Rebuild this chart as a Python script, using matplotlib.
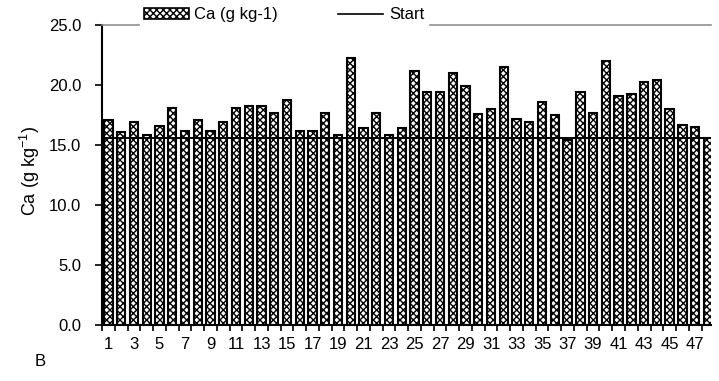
import numpy as np
import matplotlib
matplotlib.use('Agg')
import matplotlib.pyplot as plt
from matplotlib.patches import Patch
from matplotlib.lines import Line2D

plt.rcParams['font.family'] = ['Liberation Sans', 'DejaVu Sans']
plt.rcParams['hatch.linewidth'] = 1.0

# sample number and Ca content (g kg-1)
samples = list(range(1, 49))
ca = [17.1, 16.1, 16.9, 15.8, 16.6, 18.1, 16.2, 17.1, 16.2, 16.9,
      18.1, 18.25, 18.25, 17.7, 18.75, 16.2, 16.2, 17.7, 15.8, 22.3,
      16.4, 17.7, 15.8, 16.4, 21.2, 19.4, 19.4, 21.0, 19.9, 17.6,
      18.05, 21.5, 17.2, 16.9, 18.6, 17.55, 15.4, 19.4, 17.7, 22.0,
      19.1, 19.25, 20.3, 20.4, 18.05, 16.7, 16.5, 15.6]
start_value = 15.6
y_ticks = [0, 5, 10, 15, 20, 25]

fig = plt.figure(figsize=(7.19, 3.81), dpi=100)
ax = fig.add_axes([0.142, 0.147, 0.847, 0.787])

ax.bar(samples, ca, width=0.65, color='white', edgecolor='black',
       linewidth=1.5, hatch='xxxxx', zorder=2)
ax.axhline(start_value, color='black', lw=1.4, zorder=3)

ax.set_xlim(0.5, 48.25)
ax.set_ylim(0, 25)
ax.set_yticks(y_ticks)
ax.set_yticklabels(['%.1f' % v for v in y_ticks])
ax.set_xticks(samples[::2])
ax.set_xticklabels([str(s) for s in samples[::2]])
ax.set_xticks(np.arange(0.5, 48.5, 1.0), minor=True)
ax.tick_params(axis='x', which='major', length=0, pad=9, labelsize=12)
ax.tick_params(axis='x', which='minor', length=4, width=1.2, direction='out')
ax.tick_params(axis='y', length=5, width=1.2, direction='out', labelsize=12,
               pad=10)

ax.spines['right'].set_visible(False)
ax.spines['top'].set_color('#909090')
ax.spines['top'].set_linewidth(1.2)
ax.spines['left'].set_linewidth(1.5)
ax.spines['bottom'].set_linewidth(1.5)

fig.text(0.042, 0.55, 'Ca (g kg$^{\\mathregular{-1}}$)', rotation=90,
         ha='center', va='center', fontsize=13)
fig.text(0.056, 0.05, 'B', fontsize=12, ha='center', va='center')

handles = [Patch(facecolor='white', edgecolor='black', hatch='xxxxx', lw=1.2),
           Line2D([0], [0], color='black', lw=1.2)]
leg = fig.legend(handles, ['Ca (g kg-1)', 'Start'], ncol=2, loc='center left',
                 bbox_to_anchor=(0.195, 0.961), frameon=True, fancybox=False,
                 edgecolor='white', facecolor='white', framealpha=1,
                 fontsize=12, handlelength=2.7, handleheight=0.6,
                 columnspacing=3.6, handletextpad=0.35, borderpad=0.2,
                 borderaxespad=0)

fig.savefig('out.png', dpi=100)
